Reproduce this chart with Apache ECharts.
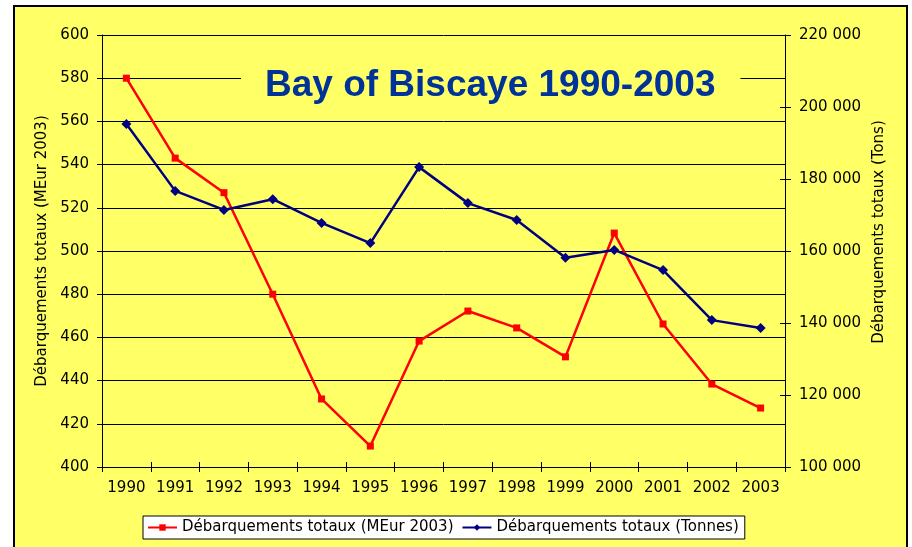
<!DOCTYPE html>
<html>
<head>
<meta charset="utf-8">
<script src="https://cdn.jsdelivr.net/npm/echarts@6/dist/echarts.min.js"></script>
<style>
  html, body { margin: 0; padding: 0; background: #fff; width: 912px; height: 547px; overflow: hidden; }
  #frame { position: absolute; left: 13px; top: 5px; width: 895px; height: 600px; box-sizing: border-box;
           border: 2px solid #000; background: #FFFF66; }
  #chart { position: absolute; left: 0; top: 0; width: 912px; height: 547px; }
</style>
</head>
<body>
<div id="frame"></div>
<div id="chart"></div>
<script>
const years = ['1990','1991','1992','1993','1994','1995','1996','1997','1998','1999','2000','2001','2002','2003'];
const landingsMEur = [580, 543, 527, 480, 431.5, 409.7, 458.3, 472.2, 464.4, 451, 508.3, 466.2, 438.4, 427.3];
const landingsTonnes = [195300, 176700, 171400, 174400, 167800, 162200, 183300, 173300, 168600, 158100, 160300, 154700, 140800, 138600];
const leftAxisRange = [400, 600, 20];
const rightAxisRange = [100000, 220000, 20000];
const titleText = 'Bay of Biscaye 1990-2003';
const seriesNames = ['Débarquements totaux (MEur 2003)', 'Débarquements totaux (Tonnes)'];
const axisNames = ['Débarquements totaux (MEur 2003)', 'Débarquements totaux (Tons)'];

const FONT = 'DejaVu Sans';
const fmtSpace = v => String(v).replace(/\B(?=(\d{3})+(?!\d))/g, ' ');

const chart = echarts.init(document.getElementById('chart'), null, { renderer: 'canvas' });
chart.setOption({
  backgroundColor: 'transparent',
  animation: false,
  title: {
    text: titleText,
    left: 241,
    top: 57,
    padding: [10, 25, 10, 24],
    backgroundColor: '#FFFF66',
    textStyle: { fontFamily: 'Liberation Sans', fontWeight: 'bold', fontSize: 37, color: '#003399' }
  },
  legend: {
    left: 143,
    top: 516,
    padding: [4, 6, 4, 4],
    itemGap: 8,
    itemWidth: 29,
    itemHeight: 8,
    backgroundColor: '#fff',
    borderColor: '#000',
    borderWidth: 1,
    borderRadius: 0,
    textStyle: { fontFamily: FONT, fontSize: 15, color: '#000' },
    data: seriesNames
  },
  grid: { left: 102, right: 127, top: 35, bottom: 80, containLabel: false },
  xAxis: [
    {
      type: 'category', data: years, boundaryGap: true, position: 'bottom',
      axisLine: { lineStyle: { color: '#000', width: 1 } },
      axisTick: { show: true, inside: false, length: 5, lineStyle: { color: '#000' } },
      axisLabel: { fontFamily: FONT, fontSize: 15, color: '#000', margin: 14, interval: 0 },
      splitLine: { show: false }
    },
    {
      type: 'category', data: years, boundaryGap: true, position: 'bottom',
      axisLine: { show: false },
      axisTick: { show: true, inside: true, length: 5, lineStyle: { color: '#000' } },
      axisLabel: { show: false },
      splitLine: { show: false }
    }
  ],
  yAxis: [
    {
      type: 'value', position: 'left',
      min: leftAxisRange[0], max: leftAxisRange[1], interval: leftAxisRange[2],
      name: axisNames[0], nameLocation: 'middle', nameGap: 50,
      nameTextStyle: { fontFamily: FONT, fontSize: 15, color: '#000' },
      axisLine: { show: true, lineStyle: { color: '#000', width: 1 } },
      axisTick: { show: true, inside: false, length: 5, lineStyle: { color: '#000' } },
      axisLabel: { fontFamily: FONT, fontSize: 15, color: '#000', margin: 13 },
      splitLine: { show: true, lineStyle: { color: '#000', width: 1 } }
    },
    {
      type: 'value', position: 'right',
      min: rightAxisRange[0], max: rightAxisRange[1], interval: rightAxisRange[2],
      name: axisNames[1], nameLocation: 'middle', nameGap: 86,
      nameTextStyle: { fontFamily: FONT, fontSize: 15, color: '#000', padding: [0, 0, 0, 38] },
      axisLine: { show: true, lineStyle: { color: '#000', width: 1 } },
      axisTick: { show: true, inside: false, length: 6, lineStyle: { color: '#000' } },
      axisLabel: { fontFamily: FONT, fontSize: 15, color: '#000', margin: 14, formatter: fmtSpace },
      splitLine: { show: false }
    },
    {
      type: 'value', position: 'right',
      min: rightAxisRange[0], max: rightAxisRange[1], interval: rightAxisRange[2],
      axisLine: { show: false },
      axisTick: { show: true, inside: true, length: 5, lineStyle: { color: '#000' } },
      axisLabel: { show: false },
      splitLine: { show: false }
    }
  ],
  series: [
    {
      name: seriesNames[0], type: 'line', xAxisIndex: 0, yAxisIndex: 0,
      data: landingsMEur,
      symbol: 'rect', symbolSize: 7, showAllSymbol: true,
      itemStyle: { color: '#FF0000' },
      lineStyle: { color: '#FF0000', width: 2.5 },
      z: 3
    },
    {
      name: seriesNames[1], type: 'line', xAxisIndex: 0, yAxisIndex: 1,
      data: landingsTonnes,
      symbol: 'diamond', symbolSize: 10, showAllSymbol: true,
      itemStyle: { color: '#000080' },
      lineStyle: { color: '#000080', width: 2.5 },
      z: 4
    }
  ]
});
</script>
</body>
</html>
